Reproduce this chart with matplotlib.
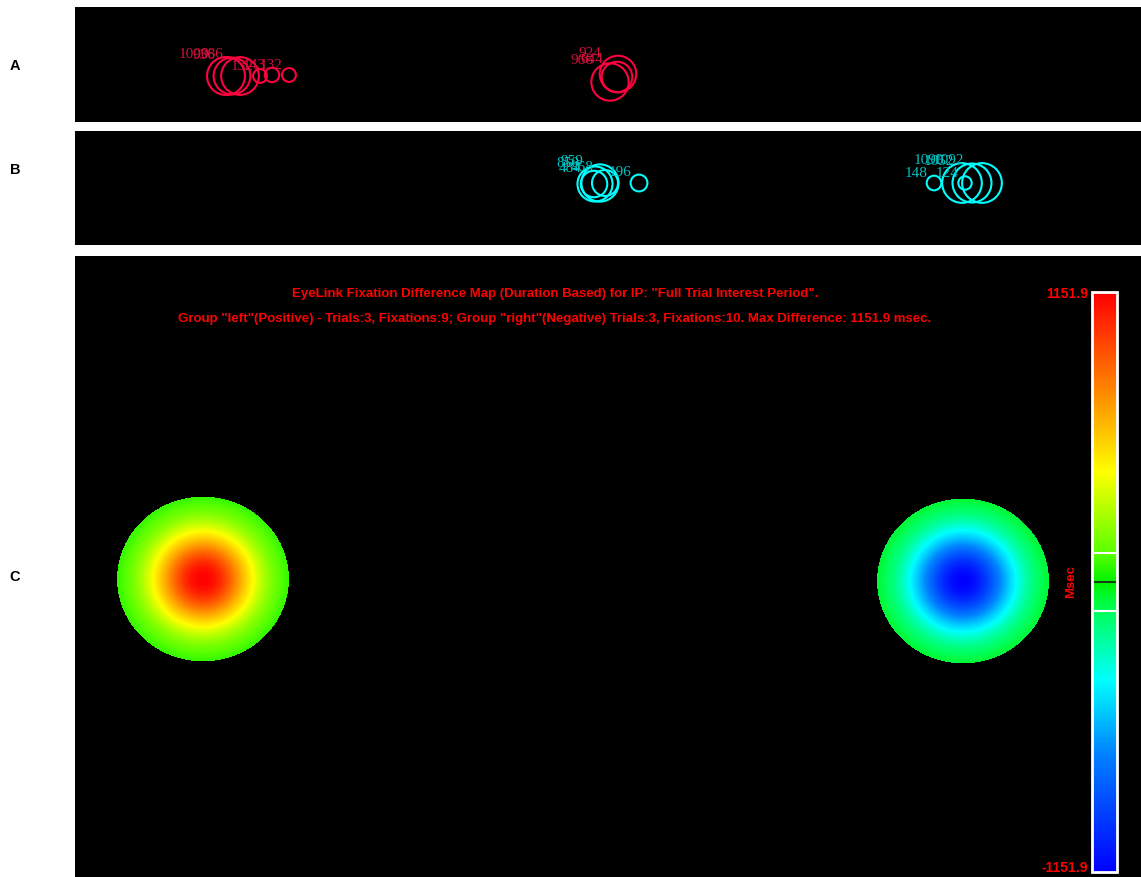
import numpy as np
import matplotlib as mpl
mpl.use('Agg')
import matplotlib.pyplot as plt
from matplotlib.patches import Circle
from matplotlib.colors import LinearSegmentedColormap

# fixations, panel pixel coords (x, y) and duration in msec
left_x = [151, 157, 165, 185, 197, 214, 535, 543, 542]
left_y = [69, 69, 69, 69, 68, 68, 75, 67, 70]
left_dur = [1000, 936, 986, 132, 143, 132, 966, 924, 644]

right_x = [520, 525, 519, 530, 564, 887, 897, 907, 890, 859]
right_y = [53, 52, 53, 52, 52, 52, 52, 52, 52, 52]
right_dur = [850, 959, 484, 468, 196, 1090, 1052, 1092, 124, 148]

# difference map peaks (panel C pixel coords) and values in msec
peak_x = [128, 888]
peak_y = [323, 325]
peak_val = [1151.9, -1151.9]
max_diff = 1151.9

title1 = 'EyeLink Fixation Difference Map (Duration Based) for IP: "Full Trial Interest Period".'
title2 = ('Group "left"(Positive) - Trials:3, Fixations:9; Group "right"(Negative) '
          'Trials:3, Fixations:10. Max Difference: 1151.9 msec.')

W, H = 1141, 878
fig = plt.figure(figsize=(W / 100, H / 100), dpi=100)
fig.patch.set_facecolor('white')

def px_axes(x0, y0, x1, y1):
    ax = fig.add_axes([x0 / W, 1 - y1 / H, (x1 - x0) / W, (y1 - y0) / H])
    ax.set_facecolor('black')
    ax.set_xlim(0, x1 - x0)
    ax.set_ylim(y1 - y0, 0)
    ax.set_xticks([])
    ax.set_yticks([])
    for s in ax.spines.values():
        s.set_visible(False)
    return ax

def draw_fix(ax, xs, ys, durs, col, tcol):
    for x, y, d in zip(xs, ys, durs):
        r = 19 * np.sqrt(d / 1000.0)
        ax.add_patch(Circle((x, y), r, fill=False, ec=col, lw=1.5))
    for x, y, d in zip(xs, ys, durs):
        r = 19 * np.sqrt(d / 1000.0)
        ax.text(x - 0.9 * r, y - r, str(d), ha='right', va='baseline', color=tcol,
                fontsize=11, family='Liberation Serif')

axA = px_axes(75, 8, 1141, 123)
draw_fix(axA, left_x, left_y, left_dur, '#ff0040', '#d0103c')
axB = px_axes(75, 132, 1141, 246)
draw_fix(axB, right_x, right_y, right_dur, '#00ffff', '#00c0c0')
axC = px_axes(75, 257, 1141, 878)

# colour scale blue -> cyan -> green -> yellow -> orange -> red
cmap = LinearSegmentedColormap.from_list('diff', [
    (0.0, (0, 0, 1)), (0.2, (0, 0.5, 1)), (0.33, (0, 1, 1)),
    (0.45, (0, 1, 0.35)), (0.5, (0, 0.95, 0)), (0.55, (0.35, 1, 0)),
    (0.69, (1, 1, 0)), (0.84, (1, 0.5, 0)), (1.0, (1, 0, 0))])

gx, gy = np.meshgrid(np.arange(0, 1066) + 0.5, np.arange(0, 621) + 0.5)
val = np.zeros_like(gx)
for px, py, v in zip(peak_x, peak_y, peak_val):
    val += v * np.exp(-((gx - px) ** 2 / (2 * 36.0 ** 2) + (gy - py) ** 2 / (2 * 34.5 ** 2)))
val = np.ma.masked_where(np.abs(val) < 0.058 * max_diff, val)
im = axC.imshow(val, cmap=cmap, vmin=-max_diff, vmax=max_diff, extent=(0, 1066, 621, 0),
                interpolation='nearest', aspect='auto')
axC.set_xlim(0, 1066)
axC.set_ylim(621, 0)

axC.text(480, 37, title1, ha='center', va='center', color='red', fontsize=9.5,
         fontweight='bold', family='Liberation Sans')
axC.text(480, 62, title2, ha='center', va='center', color='red', fontsize=9.5,
         fontweight='bold', family='Liberation Sans')

cax = fig.add_axes([1092 / W, 1 - 873 / H, 25 / W, 580 / H])
cb = fig.colorbar(im, cax=cax)
cb.set_ticks([])
cb.outline.set_edgecolor('white')
cb.outline.set_linewidth(2)
for lv, lc in [(0.1 * max_diff, 'white'), (-0.1 * max_diff, 'white'), (0, '#104010')]:
    cax.axhline(lv, color=lc, lw=1.5)

fig.text(1088 / W, 1 - 294 / H, '1151.9', ha='right', va='center', color='red',
         fontsize=10, fontweight='bold', family='Liberation Sans')
fig.text(1088 / W, 1 - 868 / H, '-1151.9', ha='right', va='center', color='red',
         fontsize=10, fontweight='bold', family='Liberation Sans')
fig.text(1071 / W, 1 - 582 / H, 'Msec', ha='center', va='center', rotation=90,
         color='red', fontsize=9.5, fontweight='bold', family='Liberation Sans')

for lab, yy in [('A', 66), ('B', 170), ('C', 577)]:
    fig.text(15 / W, 1 - yy / H, lab, ha='center', va='center', color='black',
             fontsize=10.5, fontweight='bold', family='Liberation Sans')

fig.savefig('out.png', dpi=100, facecolor='white')
